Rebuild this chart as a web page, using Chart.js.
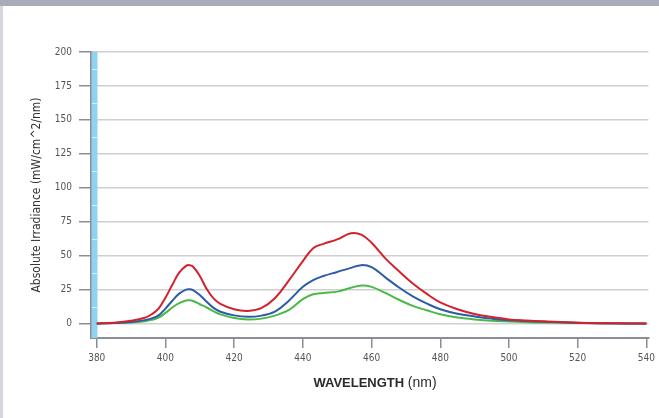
<!DOCTYPE html>
<html lang="en">
<head>
    <meta charset="UTF-8">
    <title>Absolute Irradiance vs Wavelength</title>
    <script src="https://cdn.jsdelivr.net/npm/chart.js"></script>
    <style>
        html, body { margin: 0; padding: 0; background: #fff; }
        #wrap { position: relative; width: 659px; height: 418px; }
    </style>
</head>
<body>
    <div id="wrap">
        <canvas id="irrChart" width="659" height="418"></canvas>
    </div>

    <script>
        // wavelength samples (nm) and irradiance
        const wavelengths = [380, 385, 390, 394, 396, 398, 400, 402, 404, 406, 407, 408, 410, 412, 414, 416, 420, 424, 428, 432, 436, 440, 443, 446, 450, 454, 457, 460, 464, 468, 472, 476, 480, 485, 490, 495, 500, 505, 510, 520, 530, 540];
        const redSeries   = [0, 0.6, 2, 4.2, 6.8, 11, 19, 28.5, 37.5, 42.5, 43, 42, 35, 25.5, 18.5, 14.5, 10.5, 9.3, 11.5, 19, 32, 46, 55.5, 58.7, 62, 66.5, 65.5, 59.5, 48, 38.5, 29.5, 22, 15.5, 10.5, 7, 4.8, 3, 2.2, 1.6, 0.6, 0.2, 0];
        const blueSeries  = [0, 0.4, 1.2, 2.5, 3.8, 6, 11, 16.8, 22, 25, 25.2, 24.6, 21, 16, 11.5, 8.7, 6, 4.9, 5.8, 9, 17, 27, 32, 35, 38, 41, 43, 41.5, 34, 26.5, 20, 14.8, 10.5, 7.2, 5.2, 3.6, 2.4, 1.8, 1.3, 0.5, 0.2, 0];
        const greenSeries = [0, 0.3, 0.8, 1.7, 2.7, 4.3, 7.8, 11.8, 15, 16.9, 17.1, 16.6, 14.2, 11.8, 9, 6.7, 4, 2.9, 3.6, 6, 10, 18, 21.5, 22.5, 23.5, 26.3, 28, 27, 22.5, 17.5, 13, 9.8, 6.8, 4.4, 3, 2, 1.5, 1, 0.7, 0.3, 0.1, 0];
        const xTicks = [380, 400, 420, 440, 460, 480, 500, 520, 540];
        const yTicks = [0, 25, 50, 75, 100, 125, 150, 175, 200];
        const yMinorTicks = [12.5, 37.5, 62.5, 87.5, 112.5, 137.5, 162.5, 187.5];

        const narrow = "'Liberation Sans Narrow', 'DejaVu Sans Condensed', 'Liberation Sans', sans-serif";

        function toPoints(values) {
            return wavelengths.map((w, i) => ({ x: w, y: values[i] }));
        }

        // page frame, blue axis strip and the two-font x title
        const decorations = {
            id: 'decorations',
            beforeDraw(chart) {
                const ctx = chart.ctx;
                ctx.save();
                ctx.fillStyle = '#ffffff';
                ctx.fillRect(0, 0, chart.width, chart.height);
                ctx.fillStyle = '#a9acb8';
                ctx.fillRect(0, 0, chart.width, 6);
                ctx.fillStyle = '#d6d8de';
                ctx.fillRect(0, 6, 3, chart.height - 6);
                ctx.restore();
            },
            beforeDatasetsDraw(chart) {
                const ctx = chart.ctx;
                const y = chart.scales.y;
                const area = chart.chartArea;
                const top = y.getPixelForValue(200);
                ctx.save();
                ctx.fillStyle = '#8fd2f2';
                ctx.fillRect(area.left + 0.5, top, 6, area.bottom - top);
                ctx.strokeStyle = '#d8effa';
                ctx.lineWidth = 1;
                yMinorTicks.forEach(v => {
                    const py = Math.round(y.getPixelForValue(v)) + 0.5;
                    ctx.beginPath();
                    ctx.moveTo(area.left + 1, py);
                    ctx.lineTo(area.left + 6, py);
                    ctx.stroke();
                });
                ctx.restore();
            },
            afterDraw(chart) {
                const ctx = chart.ctx;
                const boldPart = 'WAVELENGTH ';
                const plainPart = '(nm)';
                ctx.save();
                ctx.fillStyle = '#2b2b2b';
                ctx.textBaseline = 'middle';
                ctx.font = "bold 13px 'Liberation Sans', Arial, sans-serif";
                const w1 = ctx.measureText(boldPart).width;
                ctx.font = "14px 'Liberation Sans', Arial, sans-serif";
                const w2 = ctx.measureText(plainPart).width;
                const x0 = 375 - (w1 + w2) / 2;
                ctx.font = "bold 13px 'Liberation Sans', Arial, sans-serif";
                ctx.fillText(boldPart, x0, 383);
                ctx.font = "14px 'Liberation Sans', Arial, sans-serif";
                ctx.fillText(plainPart, x0 + w1, 383);
                ctx.restore();
            }
        };

        const ctx = document.getElementById('irrChart').getContext('2d');
        new Chart(ctx, {
            type: 'line',
            data: {
                datasets: [
                    { label: 'Red', data: toPoints(redSeries), borderColor: '#d2222d' },
                    { label: 'Blue', data: toPoints(blueSeries), borderColor: '#2f5ba6' },
                    { label: 'Green', data: toPoints(greenSeries), borderColor: '#4bb947' }
                ].map(ds => Object.assign(ds, {
                    fill: false,
                    borderWidth: 2,
                    pointRadius: 0,
                    tension: 0.4
                }))
            },
            options: {
                responsive: false,
                animation: false,
                layout: { padding: { left: 0, top: 52, right: 6, bottom: 0 } },
                plugins: {
                    legend: { display: false },
                    tooltip: { enabled: false }
                },
                scales: {
                    x: {
                        type: 'linear',
                        min: 378.33,
                        max: 540.58,
                        afterBuildTicks: scale => { scale.ticks = xTicks.map(v => ({ value: v })); },
                        afterFit: scale => { scale.height = 80; },
                        grid: {
                            drawOnChartArea: false,
                            drawTicks: true,
                            tickLength: 10,
                            tickColor: '#8b8e94',
                            lineWidth: 1.5
                        },
                        border: { color: '#8b8e94', width: 2 },
                        ticks: {
                            padding: 4,
                            maxRotation: 0,
                            color: '#555',
                            font: { family: narrow, size: 10 }
                        }
                    },
                    y: {
                        min: -10.67,
                        max: 200,
                        afterBuildTicks: scale => { scale.ticks = yTicks.map(v => ({ value: v })); },
                        afterFit: scale => { scale.width = 91; },
                        grid: {
                            color: '#cfcfd1',
                            lineWidth: 1.5,
                            tickLength: 12,
                            tickColor: '#8b8e94',
                            tickWidth: 1.5
                        },
                        border: { color: '#8b8e94', width: 2 },
                        ticks: {
                            padding: 7,
                            color: '#555',
                            font: { family: narrow, size: 10 }
                        },
                        title: {
                            display: true,
                            text: 'Absolute Irradiance (mW/cm^2/nm)',
                            color: '#333',
                            font: { family: narrow, size: 12 },
                            padding: { top: 30 }
                        }
                    }
                }
            },
            plugins: [decorations]
        });
    </script>
</body>
</html>
